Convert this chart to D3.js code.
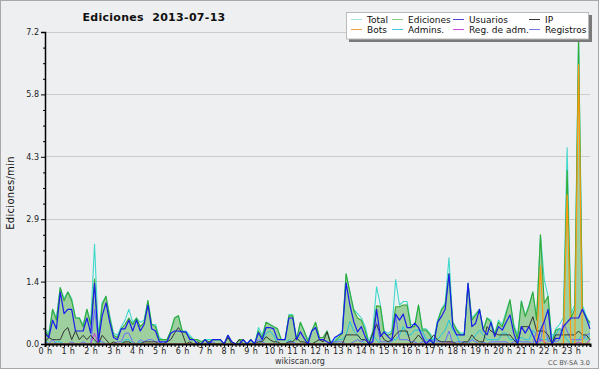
<!DOCTYPE html>
<html><head><meta charset="utf-8">
<script src="https://cdn.jsdelivr.net/npm/d3@7"></script>
<style>
html,body{margin:0;padding:0;background:#fff;}
svg{display:block;font-family:"DejaVu Sans",sans-serif;}
</style></head>
<body><svg id="c" width="600" height="370"></svg>
<script>
// ---- data (10-minute slots, 0:00 .. 23:50) ----
const hourLabels = d3.range(24).map(h => h + " h");
const yTicks = [0, 1.44, 2.88, 4.32, 5.76, 7.2];

const total = [
0.35,0.25,0.8,0.6,1.3,1.05, 1.2,1.05,0.6,0.6,0.45,0.8, 0.5,2.3,0.2,0.95,1.1,0.65,
0.25,0.2,0.4,0.55,0.8,0.5, 0.6,0.5,0.55,1.0,0.45,0.45, 0.15,0.1,0.1,0.3,0.6,0.65,
0.3,0.3,0.2,0.1,0.1,0.05, 0.1,0.1,0.1,0.1,0.1,0, 0.2,0.05,0,0.1,0.1,0,
0.1,0,0.38,0.2,0.5,0.45, 0.4,0.35,0.1,0.1,0.68,0.68, 0.1,0.5,0.3,0.1,0.3,0.5,
0.15,0.15,0.3,0.05,0.1,0.2, 0.3,1.62,1.2,0.8,0.7,0.6, 0.4,0.05,0.3,1.32,0.9,0.3,
0.25,0.3,1.49,0.9,0.98,0.98, 0.45,0.45,0.9,0.35,0.35,0.25, 0.1,0.55,0.8,0.95,1.99,0.5,
0.35,0.25,0.25,1.4,0.6,0.7, 0.8,0.35,0.6,0.55,0.25,0.55, 0.45,0.75,1.02,0.45,0.2,1.0,
0.65,0.9,1.2,0.6,2.52,1.48, 1.1,0.1,0.35,0.45,0.6,4.53, 0.7,0.9,7.2,0.9,0.65,0.45];

const edits = [
0.3,0.2,0.8,0.55,1.3,1.0, 1.2,1.0,0.6,0.6,0.4,0.8, 0.45,1.5,0.1,0.9,1.1,0.6,
0.2,0.15,0.35,0.45,0.6,0.45, 0.6,0.4,0.5,1.0,0.45,0.4, 0.1,0.1,0.1,0.3,0.6,0.65,
0.3,0.25,0.15,0.1,0.1,0.05, 0.1,0.05,0.1,0.1,0.1,0, 0.2,0.05,0,0.1,0.1,0,
0.1,0,0.3,0.15,0.5,0.45, 0.4,0.35,0.1,0.1,0.65,0.65, 0.1,0.5,0.3,0.05,0.3,0.5,
0.15,0.15,0.3,0,0.05,0.15, 0.25,1.62,1.2,0.78,0.6,0.55, 0.32,0,0.25,0.88,0.87,0.25,
0.2,0.25,0.86,0.86,0.9,0.9, 0.4,0.4,0.9,0.32,0.32,0.21, 0,0.5,0.78,0.9,1.62,0.5,
0.32,0.21,0.21,1.4,0.55,0.67, 0.8,0.32,0.6,0.5,0.21,0.5, 0.4,0.7,1.02,0.4,0.13,0.98,
0.63,0.87,1.2,0.55,2.52,0.94, 1.1,0,0.32,0.36,0.3,4.0, 0.6,0.8,7.0,0.8,0.6,0.5];

const users = [
0.25,0.15,0.55,0.35,1.2,0.7, 0.8,0.8,0.3,0.3,0.3,0.6, 0.25,1.4,0.05,0.65,0.95,0.5,
0.15,0.1,0.35,0.35,0.55,0.3, 0.55,0.3,0.45,0.9,0.35,0.3, 0.05,0.05,0.05,0.25,0.3,0.3,
0.28,0.28,0.1,0.1,0,0, 0.1,0,0.1,0.1,0.1,0, 0.2,0.05,0,0,0.1,0,
0.1,0,0.26,0.1,0.38,0.38, 0.35,0.1,0.1,0.1,0.6,0.6, 0.1,0.28,0.13,0,0.3,0.38,
0.1,0.1,0.05,0,0.15,0.2, 0.25,1.41,0.9,0.52,0.28,0.4, 0.17,0,0.05,0.8,0.17,0.28,
0.17,0.09,0.69,0.55,0.69,0.38, 0.38,0.48,0.38,0.17,0,0.1, 0,0.5,0.63,0.8,1.62,0.4,
0.21,0.21,0.21,1.4,0.4,0.48, 0.8,0.32,0.21,0.5,0.17,0.4, 0.32,0.5,0.67,0.25,0,0.4,
0.25,0.4,0.21,0,0.32,0.52, 0.8,0,0.13,0.13,0.4,0.5, 0.6,0.6,0.6,0.8,0.6,0.35];

const ip = [
0.05,0.15,0.1,0.1,0.1,0.3, 0.38,0.1,0.3,0.1,0.2,0.1, 0.2,0.1,0,0.2,0.1,0,
0.05,0,0,0.05,0.05,0, 0,0,0.05,0.05,0.05,0.05, 0,0,0.05,0.1,0.25,0.38,
0.25,0,0.05,0,0.05,0, 0,0.05,0,0,0,0, 0.15,0,0,0.1,0,0,
0,0,0.05,0.05,0.17,0.1, 0.05,0.05,0,0,0.05,0.05, 0.15,0.05,0.05,0,0,0.05,
0.1,0.05,0.28,0,0,0, 0,0.21,0.21,0.21,0.21,0.1, 0.1,0,0.25,0.45,0.25,0.1,
0.05,0.1,0.21,0.3,0.3,0.3, 0,0.1,0.21,0.1,0,0.1, 0.21,0.09,0.05,0.05,0.05,0.05,
0,0,0.05,0.05,0.21,0.1, 0.05,0.05,0.4,0.3,0.25,0.21, 0.21,0.21,0.21,0.1,0,0.4,
0.4,0.4,0.63,0.3,0.3,0.3, 0.21,0,0.21,0.21,0.21,0.21, 0.21,0.21,0.3,0.21,0.21,0.1];

const bots = [
0,0,0,0,0,0, 0,0,0,0,0,0, 0,0,0,0,0,0, 0,0,0,0,0,0, 0,0,0,0,0,0, 0,0,0,0,0,0,
0,0,0,0,0,0, 0,0,0,0,0,0, 0,0,0,0,0,0, 0,0,0,0,0,0, 0,0,0,0,0,0, 0,0,0,0,0,0,
0,0,0,0,0,0, 0,0,0,0,0,0, 0,0,0,0,0,0, 0,0,0,0,0,0, 0,0,0,0,0,0, 0,0,0,0,0,0,
0,0,0,0,0,0, 0,0,0,0,0,0, 0,0,0,0,0,0, 0,0,0,0,1.8,0, 0,0,0,0,0,3.44, 0,0,6.44,0,0,0];

const admins = [
0.1,0,0,0.05,0.05,0, 0,0,0,0,0,0, 0,0,0.1,0,0,0, 0,0,0,0.1,0.1,0, 0,0.05,0,0,0,0, 0,0,0,0,0,0,
0,0,0,0,0,0, 0,0,0,0,0,0, 0,0,0,0,0,0, 0,0,0,0.1,0.25,0.3, 0.2,0,0,0,0.1,0.05, 0,0,0,0,0,0,
0,0,0,0,0,0.1, 0.1,0.21,0.52,0.3,0.21,0.1, 0,0,0.21,0.1,0,0, 0,0.1,0.1,0.2,0.4,0.21,
0.21,0.32,0.32,0.3,0.1,0.1, 0.1,0.1,0.21,0.32,0.55,0.32, 0.21,0,0,0,0.1,0.21,
0.32,0.21,0.1,0.1,0.1,0.1, 0.25,0.25,0.1,0.1,0.1,0.15, 0.1,0.1,0.32,0.21,0.1,0.1,
0.1,0.21,0.21,0.36,0.21,0.1, 0,0.1,0.1,0.21,0.1,0.21];

const regAdm = [
0,0,0,0,0,0, 0,0,0,0,0,0, 0,0.25,0,0,0,0, 0,0,0,0,0,0, 0,0,0,0,0,0, 0,0,0,0,0,0,
0,0,0,0,0,0, 0,0,0,0,0,0, 0,0,0,0,0,0, 0,0,0,0,0,0, 0,0,0,0,0,0, 0,0,0,0,0,0,
0,0,0,0,0,0, 0,0,0,0,0,0, 0,0,0,0,0,0, 0,0,0,0,0,0, 0,0,0,0,0,0, 0,0,0,0,0.05,0,
0,0,0,0,0,0, 0,0,0,0,0,0, 0,0,0,0,0,0, 0,0,0,0,0.1,0.05, 0,0,0,0,0,0, 0,0,0.05,0,0,0.1];

const logs = [
0.05,0,0.1,0,0,0, 0,0.05,0,0,0.05,0, 0,0.8,0.1,0.05,0,0,
0,0.05,0.05,0.25,0.25,0.05, 0,0.1,0.05,0.1,0.1,0.05, 0.05,0,0,0,0,0,
0,0,0,0,0,0, 0,0,0.05,0,0,0, 0,0,0,0,0,0,
0,0,0.1,0.05,0,0, 0,0,0,0,0.05,0.05, 0,0,0,0.05,0,0,
0,0,0,0.05,0.05,0.05, 0.05,0,0,0.05,0.1,0.05, 0.1,0.05,0.05,0.5,0.05,0.05,
0.05,0.05,0.65,0.1,0.1,0.1, 0.05,0.05,0,0.05,0.05,0.05, 0.1,0.05,0.05,0.05,0.3,0,
0.05,0.05,0.05,0,0.1,0.05, 0,0.05,0,0.05,0.05,0.05, 0.05,0.05,0,0.05,0.1,0.05,
0.05,0.05,0,0.3,0.05,0.55, 0.05,0.1,0.05,0.1,0.5,0.3, 0.1,0.1,0.1,0.1,0.2,0.25];

const legendNames = ["Total","Ediciones","Usuarios","IP","Bots","Admins.","Reg. de adm.","Registros"];

// ---- styles ----
const lineColors = {
  total:"#3ed8cc", edits:"#33aa33", users:"#1a1aee", ip:"#333333",
  bots:"#ff9a10", admins:"#22c4e0", regAdm:"#cc33dd", logs:"#6a6aff"
};
const legendColors = ["#a4e4e4","#86cf86","#4848d0","#333333","#f0a040","#48c4dc","#cc48dd","#7878ee"];

const svg = d3.select("#c");
const bg = "#eeeff1";
svg.append("rect").attr("x",0.5).attr("y",0.5).attr("width",598).attr("height",368)
  .attr("fill",bg).attr("stroke","#a8a8a8");

const x = d3.scaleLinear().domain([0,143]).range([45,590]);
const y = d3.scaleLinear().domain([0,7.2]).range([344,32]);

// grid
svg.append("g").selectAll("line").data(yTicks.slice(1)).join("line")
  .attr("x1",45).attr("x2",590).attr("y1",d=>y(d)).attr("y2",d=>y(d))
  .attr("stroke","#cccccc").attr("stroke-width",1).attr("shape-rendering","crispEdges");

const idx = d3.range(144);
const area = d3.area().x(i=>x(i)).y0(y(0)).y1(i=>y(edits[i]));
svg.append("path").datum(idx).attr("d",area).attr("fill","#99cc99").attr("fill-opacity",0.95);

function drawLine(arr, color, w){
  svg.append("path").datum(idx)
    .attr("d", d3.line().x(i=>x(i)).y(i=>y(arr[i])))
    .attr("fill","none").attr("stroke",color).attr("stroke-width",w||1)
    .attr("stroke-linejoin","round");
}
drawLine(total, lineColors.total, 1.1);
drawLine(edits, lineColors.edits, 1.1);
drawLine(admins, lineColors.admins, 1);
drawLine(regAdm, lineColors.regAdm, 1);
drawLine(logs, lineColors.logs, 1);
drawLine(ip, lineColors.ip, 1);
drawLine(bots, lineColors.bots, 1.2);
drawLine(users, lineColors.users, 1.2);

// axes
const fmt = d3.format(".1f");
const yAxis = svg.append("g").attr("transform","translate(45,0)")
  .call(d3.axisLeft(y).tickValues(yTicks).tickFormat(fmt).tickSize(4).tickPadding(2));
const yMinor = svg.append("g").attr("transform","translate(45,0)")
  .call(d3.axisLeft(y).tickValues(d3.range(0,20).map(k=>k*0.36).filter(v=>v%1.44>0.01 && v%1.44<1.43)).tickFormat("").tickSize(2));
yMinor.select(".domain").remove();

const xAxis = svg.append("g").attr("transform","translate(0,344)")
  .call(d3.axisBottom(x).tickValues(idx).tickSize(3).tickPadding(1)
    .tickFormat(i => i % 6 === 0 ? hourLabels[i/6] : ""));

[yAxis, yMinor, xAxis].forEach(g=>{
  g.selectAll("text").attr("font-size",8).attr("fill","#222").attr("font-family","DejaVu Sans");
  g.selectAll("line").attr("stroke","#000");
  g.select(".domain").attr("stroke","#000");
});
xAxis.selectAll("text").attr("letter-spacing",0.4);
xAxis.select(".domain").attr("stroke-width",2);
yAxis.select(".domain").attr("stroke-width",1.5);

// texts
svg.append("text").attr("x",154).attr("y",21).attr("text-anchor","middle")
  .attr("font-size",11).attr("font-weight","bold").attr("fill","#111")
  .style("white-space","pre").attr("letter-spacing",0.3)
  .text("Ediciones  2013-07-13");
svg.append("text").attr("transform","translate(14,193) rotate(-90)").attr("text-anchor","middle")
  .attr("font-size",10).attr("fill","#111").attr("letter-spacing",0.3).text("Ediciones/min");
svg.append("text").attr("x",300).attr("y",364).attr("text-anchor","middle")
  .attr("font-size",8).attr("fill","#333").text("wikiscan.org");
svg.append("text").attr("x",590).attr("y",365).attr("text-anchor","end")
  .attr("font-size",6.5).attr("fill","#555").text("CC BY-SA 3.0");

// legend
svg.append("rect").attr("x",349).attr("y",15).attr("width",243).attr("height",27).attr("fill","#7a7a7a");
svg.append("rect").attr("x",346.5).attr("y",12.5).attr("width",242).attr("height",26.5)
  .attr("fill","#fff").attr("stroke","#bbb");
const colX = [351,392,453,529];
const rowY = [19,29];
const lg = svg.append("g").selectAll("g").data(legendNames).join("g")
  .attr("transform",(d,i)=>`translate(${colX[i%4]},${rowY[Math.floor(i/4)]})`);
lg.append("line").attr("x1",0).attr("x2",11).attr("y1",0.5).attr("y2",0.5)
  .attr("stroke",(d,i)=>legendColors[i]).attr("stroke-width",1);
lg.append("text").attr("x",16).attr("y",3.5).attr("font-size",9).attr("fill","#111").text(d=>d);
</script></body></html>
